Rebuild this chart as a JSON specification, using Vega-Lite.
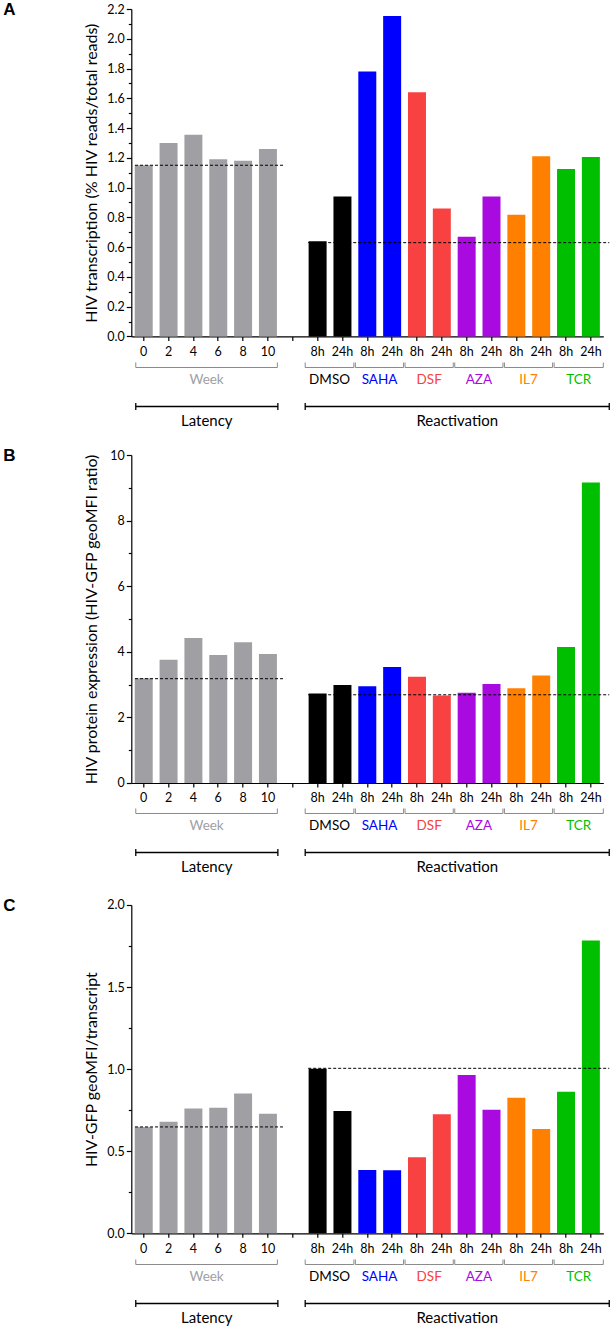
{
  "$schema": "https://vega.github.io/schema/vega-lite/v6.json",
  "background": "white",
  "padding": {"left": 3.3, "top": 1, "right": 4, "bottom": 0},
  "config": {
    "view": {"stroke": null},
    "font": "Lato",
    "axis": {"domainColor": "black", "tickColor": "black", "labelColor": "black", "titleColor": "black", "labelFont": "Lato", "titleFont": "Lato", "titleFontWeight": "normal", "grid": false, "domainWidth": 1.2, "tickWidth": 1.2}
  },
  "datasets": {
    "bars": [
      {"panel": "A", "key": "0", "group": "Week", "value": 1.15},
      {"panel": "A", "key": "2", "group": "Week", "value": 1.30},
      {"panel": "A", "key": "4", "group": "Week", "value": 1.355},
      {"panel": "A", "key": "6", "group": "Week", "value": 1.19},
      {"panel": "A", "key": "8", "group": "Week", "value": 1.18},
      {"panel": "A", "key": "10", "group": "Week", "value": 1.26},
      {"panel": "A", "key": "DMSO|8h", "group": "DMSO", "value": 0.64},
      {"panel": "A", "key": "DMSO|24h", "group": "DMSO", "value": 0.94},
      {"panel": "A", "key": "SAHA|8h", "group": "SAHA", "value": 1.78},
      {"panel": "A", "key": "SAHA|24h", "group": "SAHA", "value": 2.153},
      {"panel": "A", "key": "DSF|8h", "group": "DSF", "value": 1.64},
      {"panel": "A", "key": "DSF|24h", "group": "DSF", "value": 0.86},
      {"panel": "A", "key": "AZA|8h", "group": "AZA", "value": 0.67},
      {"panel": "A", "key": "AZA|24h", "group": "AZA", "value": 0.94},
      {"panel": "A", "key": "IL7|8h", "group": "IL7", "value": 0.818},
      {"panel": "A", "key": "IL7|24h", "group": "IL7", "value": 1.21},
      {"panel": "A", "key": "TCR|8h", "group": "TCR", "value": 1.125},
      {"panel": "A", "key": "TCR|24h", "group": "TCR", "value": 1.205},
      {"panel": "B", "key": "0", "group": "Week", "value": 3.19},
      {"panel": "B", "key": "2", "group": "Week", "value": 3.76},
      {"panel": "B", "key": "4", "group": "Week", "value": 4.42},
      {"panel": "B", "key": "6", "group": "Week", "value": 3.90},
      {"panel": "B", "key": "8", "group": "Week", "value": 4.29},
      {"panel": "B", "key": "10", "group": "Week", "value": 3.93},
      {"panel": "B", "key": "DMSO|8h", "group": "DMSO", "value": 2.73},
      {"panel": "B", "key": "DMSO|24h", "group": "DMSO", "value": 2.99},
      {"panel": "B", "key": "SAHA|8h", "group": "SAHA", "value": 2.95},
      {"panel": "B", "key": "SAHA|24h", "group": "SAHA", "value": 3.54},
      {"panel": "B", "key": "DSF|8h", "group": "DSF", "value": 3.24},
      {"panel": "B", "key": "DSF|24h", "group": "DSF", "value": 2.67},
      {"panel": "B", "key": "AZA|8h", "group": "AZA", "value": 2.75},
      {"panel": "B", "key": "AZA|24h", "group": "AZA", "value": 3.02},
      {"panel": "B", "key": "IL7|8h", "group": "IL7", "value": 2.89},
      {"panel": "B", "key": "IL7|24h", "group": "IL7", "value": 3.28},
      {"panel": "B", "key": "TCR|8h", "group": "TCR", "value": 4.15},
      {"panel": "B", "key": "TCR|24h", "group": "TCR", "value": 9.16},
      {"panel": "C", "key": "0", "group": "Week", "value": 0.648},
      {"panel": "C", "key": "2", "group": "Week", "value": 0.68},
      {"panel": "C", "key": "4", "group": "Week", "value": 0.761},
      {"panel": "C", "key": "6", "group": "Week", "value": 0.765},
      {"panel": "C", "key": "8", "group": "Week", "value": 0.851},
      {"panel": "C", "key": "10", "group": "Week", "value": 0.729},
      {"panel": "C", "key": "DMSO|8h", "group": "DMSO", "value": 1.003},
      {"panel": "C", "key": "DMSO|24h", "group": "DMSO", "value": 0.745},
      {"panel": "C", "key": "SAHA|8h", "group": "SAHA", "value": 0.386},
      {"panel": "C", "key": "SAHA|24h", "group": "SAHA", "value": 0.384},
      {"panel": "C", "key": "DSF|8h", "group": "DSF", "value": 0.463},
      {"panel": "C", "key": "DSF|24h", "group": "DSF", "value": 0.725},
      {"panel": "C", "key": "AZA|8h", "group": "AZA", "value": 0.964},
      {"panel": "C", "key": "AZA|24h", "group": "AZA", "value": 0.753},
      {"panel": "C", "key": "IL7|8h", "group": "IL7", "value": 0.826},
      {"panel": "C", "key": "IL7|24h", "group": "IL7", "value": 0.636},
      {"panel": "C", "key": "TCR|8h", "group": "TCR", "value": 0.863},
      {"panel": "C", "key": "TCR|24h", "group": "TCR", "value": 1.783}
    ],
    "refs": [
      {"panel": "A", "phase": "Latency", "value": 1.15, "from": 0.15, "to": 6.18},
      {"panel": "A", "phase": "Reactivation", "value": 0.63, "from": 7.12, "to": 19.24},
      {"panel": "B", "phase": "Latency", "value": 3.18, "from": 0.15, "to": 6.18},
      {"panel": "B", "phase": "Reactivation", "value": 2.69, "from": 7.12, "to": 19.24},
      {"panel": "C", "phase": "Latency", "value": 0.648, "from": 0.15, "to": 6.18},
      {"panel": "C", "phase": "Reactivation", "value": 1.005, "from": 7.12, "to": 19.24}
    ],
    "groups": [
      {"group": "Week", "from": 0.18, "to": 5.88},
      {"group": "DMSO", "from": 7.0, "to": 8.96},
      {"group": "SAHA", "from": 9.02, "to": 10.96},
      {"group": "DSF", "from": 11.02, "to": 12.96},
      {"group": "AZA", "from": 13.02, "to": 14.96},
      {"group": "IL7", "from": 15.02, "to": 16.96},
      {"group": "TCR", "from": 17.02, "to": 19.0}
    ],
    "phases": [
      {"phase": "Latency", "from": 0.18, "to": 5.9},
      {"phase": "Reactivation", "from": 7.0, "to": 19.24}
    ]
  },
  "bounds": "flush",
  "spacing": 0,
  "vconcat": [
    {
      "width": 472, "height": 327.4,
      "title": {"text": "A", "anchor": "start", "frame": "group", "orient": "top", "baseline": "alphabetic", "offset": 0, "dx": -128, "dy": 29, "font": "Liberation Sans", "fontSize": 17, "fontWeight": "bold", "color": "black"},
      "layer": [
        {
          "data": {"name": "bars"},
          "transform": [{"filter": "datum.panel == 'A'"}],
          "mark": {"type": "bar"},
          "encoding": {
            "x": {"field": "key", "type": "nominal", "sort": null,
              "scale": {"domain": ["0","2","4","6","8","10","gap","DMSO|8h","DMSO|24h","SAHA|8h","SAHA|24h","DSF|8h","DSF|24h","AZA|8h","AZA|24h","IL7|8h","IL7|24h","TCR|8h","TCR|24h"], "paddingInner": 0.276, "paddingOuter": 0.138},
              "axis": {"title": null, "labelAngle": 0, "labelExpr": "datum.value == 'gap' ? '' : (indexof(datum.value, '|') >= 0 ? split(datum.value, '|')[1] : datum.value)", "tickSize": 4, "labelPadding": 5, "labelFontSize": 12.5}},
            "y": {"field": "value", "type": "quantitative",
              "scale": {"domain": [0, 2.2], "nice": false, "zero": true},
              "axis": {"values": [0,0.2,0.4,0.6,0.8,1.0,1.2,1.4,1.6,1.8,2.0,2.2], "format": ".1f", "title": "HIV transcription (% HIV reads/total reads)", "titleX": -40, "titleY": 163.7, "titleAlign": "center", "titleBaseline": "middle", "titleFontSize": 16, "labelFontSize": 12.5, "tickSize": 5, "labelPadding": 2}},
            "color": {"field": "group", "type": "nominal", "scale": {"domain": ["Week","DMSO","SAHA","DSF","AZA","IL7","TCR"], "range": ["#A0A0A4","#000000","#0000FF","#F84141","#A80ADF","#FF8000","#00BF00"]}, "legend": null}
          }
        },
        {
          "data": {"name": "refs"},
          "transform": [{"filter": "datum.panel == 'A'"}],
          "mark": {"type": "rule", "strokeDash": [3, 2], "color": "black", "strokeWidth": 1},
          "encoding": {
            "x": {"field": "from", "type": "quantitative", "scale": {"domain": [0, 19], "nice": false, "zero": false}, "axis": null},
            "x2": {"field": "to"},
            "y": {"field": "value", "type": "quantitative", "scale": {"domain": [0, 2.2], "nice": false},
              "axis": {"orient": "left", "values": [0.1,0.3,0.5,0.7,0.9,1.1,1.3,1.5,1.7,1.9,2.1], "labels": false, "domain": false, "tickSize": 3, "title": null}}
          }
        }
      ],
      "resolve": {"scale": {"x": "independent"}, "axis": {"y": "independent"}}
    },
    {
      "width": 472, "height": 117.6,
      "layer": [
        {"data": {"name": "groups"}, "mark": {"type": "rule", "color": "#8a8a8a", "strokeWidth": 1},
          "encoding": {"x": {"field": "from", "type": "quantitative", "scale": {"domain": [0, 19], "nice": false, "zero": false}, "axis": null}, "x2": {"field": "to"},
            "y": {"datum": 30.5, "type": "quantitative", "scale": {"domain": [0, 117.6], "nice": false, "zero": false, "reverse": true}, "axis": null}}},
        {"data": {"name": "groups"}, "transform": [{"fold": ["from", "to"], "as": ["side", "end"]}], "mark": {"type": "rule", "color": "#8a8a8a", "strokeWidth": 1},
          "encoding": {"x": {"field": "end", "type": "quantitative"}, "y": {"datum": 25.5, "type": "quantitative"}, "y2": {"datum": 30.5}}},
        {"data": {"name": "groups"}, "transform": [{"calculate": "(datum.from + datum.to) / 2", "as": "mid"}], "mark": {"type": "text", "fontSize": 13.5, "baseline": "middle", "font": "Lato"},
          "encoding": {"x": {"field": "mid", "type": "quantitative"}, "y": {"datum": 43.3, "type": "quantitative"}, "text": {"field": "group"},
            "color": {"field": "group", "type": "nominal", "scale": {"domain": ["Week","DMSO","SAHA","DSF","AZA","IL7","TCR"], "range": ["#A8A8AC","#000000","#0000FF","#F84141","#A80ADF","#FF8000","#00BF00"]}, "legend": null}}},
        {"data": {"name": "phases"}, "mark": {"type": "rule", "color": "black", "strokeWidth": 1.3},
          "encoding": {"x": {"field": "from", "type": "quantitative"}, "x2": {"field": "to"}, "y": {"datum": 69.5, "type": "quantitative"}}},
        {"data": {"name": "phases"}, "transform": [{"fold": ["from", "to"], "as": ["side", "end"]}], "mark": {"type": "rule", "color": "black", "strokeWidth": 1.3},
          "encoding": {"x": {"field": "end", "type": "quantitative"}, "y": {"datum": 66, "type": "quantitative"}, "y2": {"datum": 73}}},
        {"data": {"name": "phases"}, "transform": [{"calculate": "(datum.from + datum.to) / 2", "as": "mid"}], "mark": {"type": "text", "fontSize": 15, "baseline": "middle", "font": "Lato", "color": "black"},
          "encoding": {"x": {"field": "mid", "type": "quantitative"}, "y": {"datum": 83.7, "type": "quantitative"}, "text": {"field": "phase"}}}
      ]
    },
    {
      "width": 472, "height": 328,
      "title": {"text": "B", "anchor": "start", "frame": "group", "orient": "top", "baseline": "alphabetic", "offset": 0, "dx": -128, "dy": 29, "font": "Liberation Sans", "fontSize": 17, "fontWeight": "bold", "color": "black"},
      "layer": [
        {
          "data": {"name": "bars"},
          "transform": [{"filter": "datum.panel == 'B'"}],
          "mark": {"type": "bar"},
          "encoding": {
            "x": {"field": "key", "type": "nominal", "sort": null,
              "scale": {"domain": ["0","2","4","6","8","10","gap","DMSO|8h","DMSO|24h","SAHA|8h","SAHA|24h","DSF|8h","DSF|24h","AZA|8h","AZA|24h","IL7|8h","IL7|24h","TCR|8h","TCR|24h"], "paddingInner": 0.276, "paddingOuter": 0.138},
              "axis": {"title": null, "labelAngle": 0, "labelExpr": "datum.value == 'gap' ? '' : (indexof(datum.value, '|') >= 0 ? split(datum.value, '|')[1] : datum.value)", "tickSize": 4, "labelPadding": 5, "labelFontSize": 12.5}},
            "y": {"field": "value", "type": "quantitative",
              "scale": {"domain": [0, 10], "nice": false, "zero": true},
              "axis": {"values": [0,2,4,6,8,10], "format": "d", "title": "HIV protein expression (HIV-GFP geoMFI ratio)", "titleX": -40, "titleY": 164, "titleAlign": "center", "titleBaseline": "middle", "titleFontSize": 16, "labelFontSize": 12.5, "tickSize": 5, "labelPadding": 2}},
            "color": {"field": "group", "type": "nominal", "scale": {"domain": ["Week","DMSO","SAHA","DSF","AZA","IL7","TCR"], "range": ["#A0A0A4","#000000","#0000FF","#F84141","#A80ADF","#FF8000","#00BF00"]}, "legend": null}
          }
        },
        {
          "data": {"name": "refs"},
          "transform": [{"filter": "datum.panel == 'B'"}],
          "mark": {"type": "rule", "strokeDash": [3, 2], "color": "black", "strokeWidth": 1},
          "encoding": {
            "x": {"field": "from", "type": "quantitative", "scale": {"domain": [0, 19], "nice": false, "zero": false}, "axis": null},
            "x2": {"field": "to"},
            "y": {"field": "value", "type": "quantitative", "scale": {"domain": [0, 10], "nice": false},
              "axis": {"orient": "left", "values": [1,3,5,7,9], "labels": false, "domain": false, "tickSize": 3, "title": null}}
          }
        }
      ],
      "resolve": {"scale": {"x": "independent"}, "axis": {"y": "independent"}}
    },
    {
      "width": 472, "height": 121.4,
      "layer": [
        {"data": {"name": "groups"}, "mark": {"type": "rule", "color": "#8a8a8a", "strokeWidth": 1},
          "encoding": {"x": {"field": "from", "type": "quantitative", "scale": {"domain": [0, 19], "nice": false, "zero": false}, "axis": null}, "x2": {"field": "to"},
            "y": {"datum": 30.5, "type": "quantitative", "scale": {"domain": [0, 121.4], "nice": false, "zero": false, "reverse": true}, "axis": null}}},
        {"data": {"name": "groups"}, "transform": [{"fold": ["from", "to"], "as": ["side", "end"]}], "mark": {"type": "rule", "color": "#8a8a8a", "strokeWidth": 1},
          "encoding": {"x": {"field": "end", "type": "quantitative"}, "y": {"datum": 25.5, "type": "quantitative"}, "y2": {"datum": 30.5}}},
        {"data": {"name": "groups"}, "transform": [{"calculate": "(datum.from + datum.to) / 2", "as": "mid"}], "mark": {"type": "text", "fontSize": 13.5, "baseline": "middle", "font": "Lato"},
          "encoding": {"x": {"field": "mid", "type": "quantitative"}, "y": {"datum": 43.3, "type": "quantitative"}, "text": {"field": "group"},
            "color": {"field": "group", "type": "nominal", "scale": {"domain": ["Week","DMSO","SAHA","DSF","AZA","IL7","TCR"], "range": ["#A8A8AC","#000000","#0000FF","#F84141","#A80ADF","#FF8000","#00BF00"]}, "legend": null}}},
        {"data": {"name": "phases"}, "mark": {"type": "rule", "color": "black", "strokeWidth": 1.3},
          "encoding": {"x": {"field": "from", "type": "quantitative"}, "x2": {"field": "to"}, "y": {"datum": 69.5, "type": "quantitative"}}},
        {"data": {"name": "phases"}, "transform": [{"fold": ["from", "to"], "as": ["side", "end"]}], "mark": {"type": "rule", "color": "black", "strokeWidth": 1.3},
          "encoding": {"x": {"field": "end", "type": "quantitative"}, "y": {"datum": 66, "type": "quantitative"}, "y2": {"datum": 73}}},
        {"data": {"name": "phases"}, "transform": [{"calculate": "(datum.from + datum.to) / 2", "as": "mid"}], "mark": {"type": "text", "fontSize": 15, "baseline": "middle", "font": "Lato", "color": "black"},
          "encoding": {"x": {"field": "mid", "type": "quantitative"}, "y": {"datum": 83.7, "type": "quantitative"}, "text": {"field": "phase"}}}
      ]
    },
    {
      "width": 472, "height": 328.3,
      "title": {"text": "C", "anchor": "start", "frame": "group", "orient": "top", "baseline": "alphabetic", "offset": 0, "dx": -128, "dy": 29, "font": "Liberation Sans", "fontSize": 17, "fontWeight": "bold", "color": "black"},
      "layer": [
        {
          "data": {"name": "bars"},
          "transform": [{"filter": "datum.panel == 'C'"}],
          "mark": {"type": "bar"},
          "encoding": {
            "x": {"field": "key", "type": "nominal", "sort": null,
              "scale": {"domain": ["0","2","4","6","8","10","gap","DMSO|8h","DMSO|24h","SAHA|8h","SAHA|24h","DSF|8h","DSF|24h","AZA|8h","AZA|24h","IL7|8h","IL7|24h","TCR|8h","TCR|24h"], "paddingInner": 0.276, "paddingOuter": 0.138},
              "axis": {"title": null, "labelAngle": 0, "labelExpr": "datum.value == 'gap' ? '' : (indexof(datum.value, '|') >= 0 ? split(datum.value, '|')[1] : datum.value)", "tickSize": 4, "labelPadding": 5, "labelFontSize": 12.5}},
            "y": {"field": "value", "type": "quantitative",
              "scale": {"domain": [0, 2], "nice": false, "zero": true},
              "axis": {"values": [0,0.5,1.0,1.5,2.0], "format": ".1f", "title": "HIV-GFP geoMFI/transcript", "titleX": -40, "titleY": 164.2, "titleAlign": "center", "titleBaseline": "middle", "titleFontSize": 16, "labelFontSize": 12.5, "tickSize": 5, "labelPadding": 2}},
            "color": {"field": "group", "type": "nominal", "scale": {"domain": ["Week","DMSO","SAHA","DSF","AZA","IL7","TCR"], "range": ["#A0A0A4","#000000","#0000FF","#F84141","#A80ADF","#FF8000","#00BF00"]}, "legend": null}
          }
        },
        {
          "data": {"name": "refs"},
          "transform": [{"filter": "datum.panel == 'C'"}],
          "mark": {"type": "rule", "strokeDash": [3, 2], "color": "black", "strokeWidth": 1},
          "encoding": {
            "x": {"field": "from", "type": "quantitative", "scale": {"domain": [0, 19], "nice": false, "zero": false}, "axis": null},
            "x2": {"field": "to"},
            "y": {"field": "value", "type": "quantitative", "scale": {"domain": [0, 2], "nice": false},
              "axis": {"orient": "left", "values": [0.25,0.75,1.25,1.75], "labels": false, "domain": false, "tickSize": 3, "title": null}}
          }
        }
      ],
      "resolve": {"scale": {"x": "independent"}, "axis": {"y": "independent"}}
    },
    {
      "width": 472, "height": 96,
      "layer": [
        {"data": {"name": "groups"}, "mark": {"type": "rule", "color": "#8a8a8a", "strokeWidth": 1},
          "encoding": {"x": {"field": "from", "type": "quantitative", "scale": {"domain": [0, 19], "nice": false, "zero": false}, "axis": null}, "x2": {"field": "to"},
            "y": {"datum": 30.5, "type": "quantitative", "scale": {"domain": [0, 96], "nice": false, "zero": false, "reverse": true}, "axis": null}}},
        {"data": {"name": "groups"}, "transform": [{"fold": ["from", "to"], "as": ["side", "end"]}], "mark": {"type": "rule", "color": "#8a8a8a", "strokeWidth": 1},
          "encoding": {"x": {"field": "end", "type": "quantitative"}, "y": {"datum": 25.5, "type": "quantitative"}, "y2": {"datum": 30.5}}},
        {"data": {"name": "groups"}, "transform": [{"calculate": "(datum.from + datum.to) / 2", "as": "mid"}], "mark": {"type": "text", "fontSize": 13.5, "baseline": "middle", "font": "Lato"},
          "encoding": {"x": {"field": "mid", "type": "quantitative"}, "y": {"datum": 43.3, "type": "quantitative"}, "text": {"field": "group"},
            "color": {"field": "group", "type": "nominal", "scale": {"domain": ["Week","DMSO","SAHA","DSF","AZA","IL7","TCR"], "range": ["#A8A8AC","#000000","#0000FF","#F84141","#A80ADF","#FF8000","#00BF00"]}, "legend": null}}},
        {"data": {"name": "phases"}, "mark": {"type": "rule", "color": "black", "strokeWidth": 1.3},
          "encoding": {"x": {"field": "from", "type": "quantitative"}, "x2": {"field": "to"}, "y": {"datum": 69.5, "type": "quantitative"}}},
        {"data": {"name": "phases"}, "transform": [{"fold": ["from", "to"], "as": ["side", "end"]}], "mark": {"type": "rule", "color": "black", "strokeWidth": 1.3},
          "encoding": {"x": {"field": "end", "type": "quantitative"}, "y": {"datum": 66, "type": "quantitative"}, "y2": {"datum": 73}}},
        {"data": {"name": "phases"}, "transform": [{"calculate": "(datum.from + datum.to) / 2", "as": "mid"}], "mark": {"type": "text", "fontSize": 15, "baseline": "middle", "font": "Lato", "color": "black"},
          "encoding": {"x": {"field": "mid", "type": "quantitative"}, "y": {"datum": 83.7, "type": "quantitative"}, "text": {"field": "phase"}}}
      ]
    }
  ]
}
